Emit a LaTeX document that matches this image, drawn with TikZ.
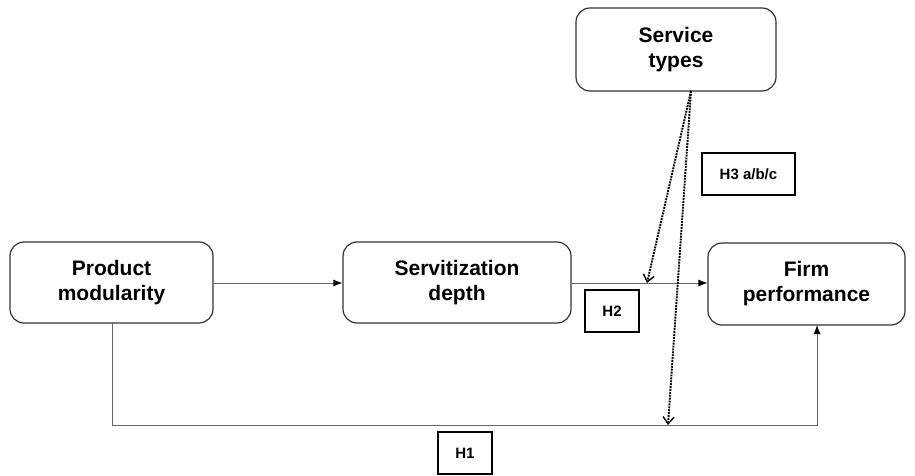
\documentclass[tikz,border=0pt]{standalone}
\usepackage{fontspec}
\setmainfont{Liberation Sans}
\usetikzlibrary{arrows.meta}
\begin{document}
\begin{tikzpicture}[x=1pt,y=-1pt,
  construct/.style={draw=black!80, line width=1.2pt, rounded corners=14pt,
    inner sep=0pt, align=center, font=\fontsize{21}{25}\selectfont\bfseries},
  hyp/.style={draw=black, line width=1.6pt, inner sep=0pt, minimum height=42pt,
    align=center, font=\fontsize{15}{18}\selectfont\bfseries},
  link/.style={draw=black!60, line width=0.9pt,
    -{Latex[length=9pt,width=7pt,color=black,fill=black]}},
  moderate/.style={draw=black, line width=1.9pt, densely dotted,
    -{Straight Barb[length=7pt,width=11pt,line width=1.4pt]}}]
\useasboundingbox (0,0) rectangle (915,476);

% constructs
\node[construct, minimum width=203pt, minimum height=81pt] (pm) at (111.5,282.5) {Product\\modularity};
\node[construct, minimum width=228pt, minimum height=81pt] (sd) at (457,282.5) {Servitization\\depth};
\node[construct, minimum width=197pt, minimum height=82pt] (fp) at (806.5,284) {Firm\\performance};
\node[construct, minimum width=200pt, minimum height=83pt] (st) at (676,49.5) {Service\\types};

% hypothesis labels
\node[hyp, minimum width=93pt] (h3) at (748.5,174) {H3 a/b/c};
\node[hyp, minimum width=54pt] (h2) at (612,311) {H2};
\node[hyp, minimum width=54pt] (h1) at (465,453) {H1};

% helper points
\coordinate (stout) at (691,91);
\coordinate (pmdown) at (112,323);
\coordinate (cornerL) at (112,425);
\coordinate (cornerR) at (817,425);
\coordinate (fpin) at (817,325);
\coordinate (onH2) at (647,283);
\coordinate (onH1) at (668,425);

% direct effects
\draw[link] (pm.east |- 0,283) -- (sd.west |- 0,283);
\draw[link] (sd.east |- 0,283) -- (fp.west |- 0,283);
\draw[link] (pmdown) -- (cornerL) -- (cornerR) -- (fpin);

% moderation by service types
\draw[moderate] (stout) -- (onH2);
\draw[moderate] (stout) -- (onH1);
\end{tikzpicture}
\end{document}
